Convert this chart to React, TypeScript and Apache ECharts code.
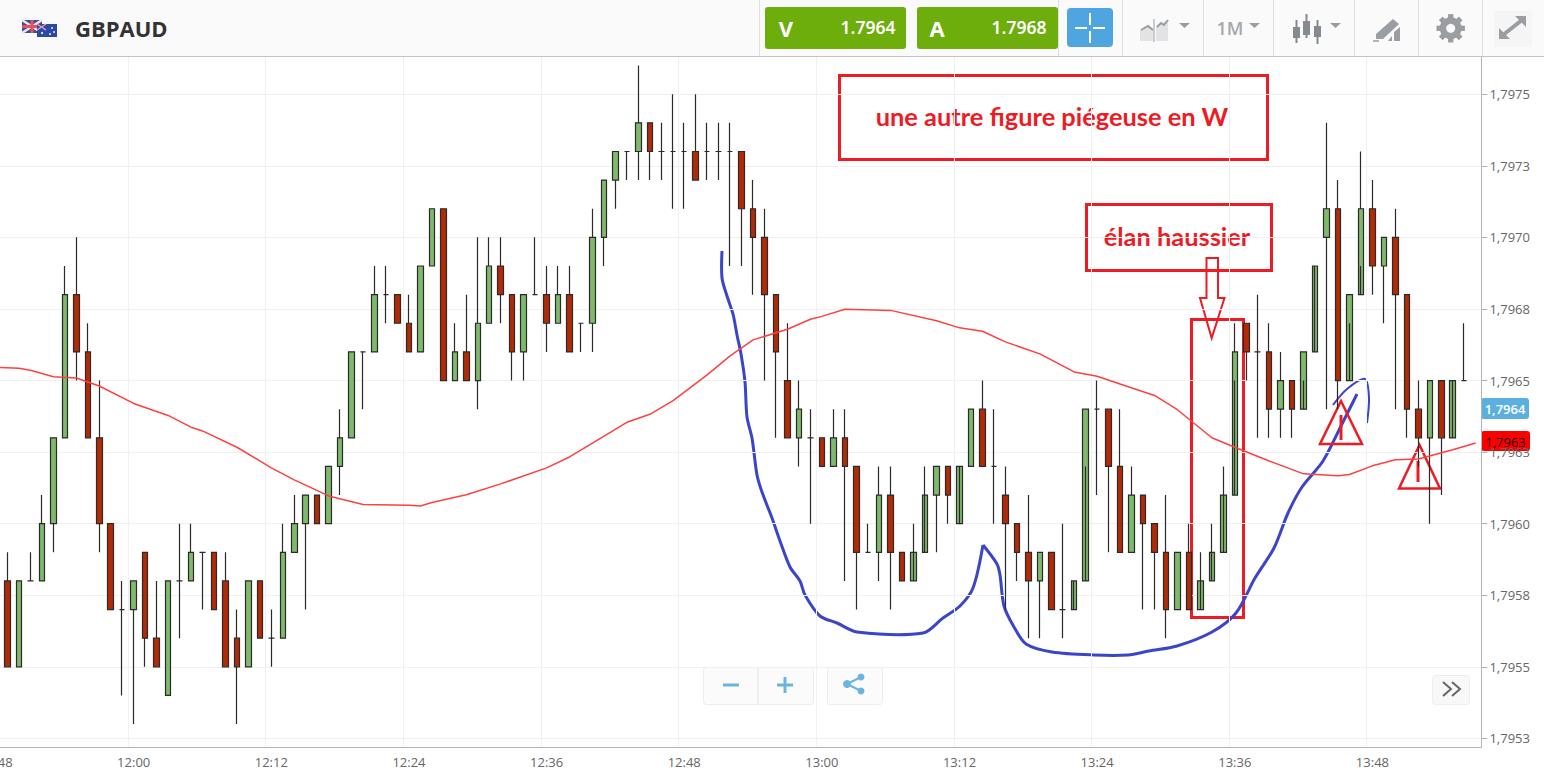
import React, { useEffect, useRef } from "react";
import * as echarts from "echarts";

// ---------- data (one candle per minute, 11:49 to 13:57) ----------
const opens = [1.7958,1.7955,1.7958,1.7958,1.7960,1.7963,1.7968,1.7966,1.7963,1.7960,1.7957,1.7957,1.7959,1.7956,1.7954,1.7958,1.7958,1.7959,1.7959,1.7958,1.7956,1.7955,1.7958,1.7956,1.7956,1.7959,1.7960,1.7961,1.7960,1.7962,1.7963,1.7966,1.7966,1.7968,1.7968,1.7967,1.7966,1.7969,1.7971,1.7965,1.7966,1.7965,1.7967,1.7969,1.7968,1.7966,1.7968,1.7968,1.7967,1.7968,1.7967,1.7967,1.7970,1.7972,1.7973,1.7973,1.7974,1.7973,1.7973,1.7973,1.7973,1.7973,1.7973,1.7973,1.7973,1.7971,1.7970,1.7968,1.7965,1.7963,1.7963,1.7963,1.7962,1.7963,1.7962,1.7959,1.7959,1.7961,1.7959,1.7958,1.7959,1.7961,1.7962,1.7960,1.7962,1.7964,1.7962,1.7961,1.7960,1.7959,1.7958,1.7959,1.7957,1.7957,1.7958,1.7964,1.7964,1.7962,1.7959,1.7961,1.7960,1.7959,1.7957,1.7959,1.7957,1.7958,1.7959,1.7961,1.7967,1.7966,1.7966,1.7964,1.7965,1.7964,1.7966,1.7970,1.7971,1.7965,1.7968,1.7971,1.7969,1.7970,1.7968,1.7964,1.7963,1.7965,1.7963,1.7965,1.7965];
const closes = [1.7955,1.7958,1.7958,1.7960,1.7963,1.7968,1.7966,1.7963,1.7960,1.7957,1.7957,1.7958,1.7956,1.7955,1.7958,1.7958,1.7959,1.7959,1.7957,1.7955,1.7955,1.7958,1.7956,1.7956,1.7959,1.7960,1.7961,1.7960,1.7962,1.7963,1.7966,1.7966,1.7968,1.7968,1.7967,1.7966,1.7969,1.7971,1.7965,1.7966,1.7965,1.7967,1.7969,1.7968,1.7966,1.7968,1.7968,1.7967,1.7968,1.7966,1.7967,1.7970,1.7972,1.7973,1.7973,1.7974,1.7973,1.7973,1.7973,1.7973,1.7972,1.7973,1.7973,1.7973,1.7971,1.7970,1.7968,1.7966,1.7963,1.7964,1.7963,1.7962,1.7963,1.7962,1.7959,1.7959,1.7961,1.7959,1.7958,1.7959,1.7961,1.7962,1.7961,1.7962,1.7964,1.7962,1.7962,1.7960,1.7959,1.7958,1.7959,1.7957,1.7957,1.7958,1.7964,1.7964,1.7962,1.7959,1.7961,1.7960,1.7959,1.7957,1.7959,1.7957,1.7958,1.7959,1.7961,1.7966,1.7966,1.7966,1.7964,1.7965,1.7964,1.7966,1.7969,1.7971,1.7965,1.7968,1.7971,1.7969,1.7970,1.7968,1.7964,1.7963,1.7965,1.7963,1.7965,1.7965,1.7967];
const lows = [1.7955,1.7955,1.7958,1.7958,1.7959,1.7963,1.7965,1.7963,1.7959,1.7957,1.7954,1.7953,1.7955,1.7955,1.7954,1.7956,1.7958,1.7957,1.7957,1.7955,1.7953,1.7955,1.7956,1.7955,1.7956,1.7959,1.7957,1.7960,1.7960,1.7961,1.7963,1.7964,1.7966,1.7967,1.7967,1.7966,1.7966,1.7969,1.7965,1.7965,1.7965,1.7964,1.7967,1.7967,1.7965,1.7965,1.7968,1.7966,1.7967,1.7966,1.7966,1.7966,1.7969,1.7971,1.7972,1.7972,1.7972,1.7972,1.7971,1.7971,1.7972,1.7972,1.7972,1.7969,1.7969,1.7968,1.7965,1.7963,1.7963,1.7962,1.7960,1.7962,1.7962,1.7958,1.7957,1.7959,1.7958,1.7957,1.7958,1.7959,1.7961,1.7959,1.7960,1.7962,1.7962,1.7962,1.7960,1.7957,1.7958,1.7956,1.7956,1.7957,1.7956,1.7958,1.7962,1.7961,1.7959,1.7959,1.7959,1.7957,1.7957,1.7956,1.7957,1.7957,1.7958,1.7959,1.7961,1.7965,1.7965,1.7963,1.7963,1.7963,1.7963,1.7965,1.7969,1.7964,1.7964,1.7967,1.7969,1.7968,1.7967,1.7964,1.7963,1.7962,1.7960,1.7961,1.7965,1.7965];
const highs = [1.7959,1.7958,1.7959,1.7961,1.7963,1.7969,1.7970,1.7967,1.7965,1.7960,1.7958,1.7958,1.7959,1.7958,1.7958,1.7960,1.7960,1.7959,1.7959,1.7959,1.7957,1.7958,1.7958,1.7957,1.7960,1.7961,1.7961,1.7961,1.7962,1.7964,1.7966,1.7966,1.7969,1.7969,1.7968,1.7968,1.7969,1.7971,1.7971,1.7967,1.7968,1.7970,1.7970,1.7970,1.7968,1.7968,1.7970,1.7969,1.7969,1.7969,1.7967,1.7971,1.7972,1.7973,1.7973,1.7976,1.7974,1.7974,1.7975,1.7974,1.7975,1.7974,1.7974,1.7974,1.7973,1.7972,1.7971,1.7968,1.7967,1.7965,1.7964,1.7963,1.7964,1.7964,1.7962,1.7960,1.7962,1.7962,1.7959,1.7960,1.7962,1.7962,1.7962,1.7962,1.7964,1.7965,1.7964,1.7962,1.7960,1.7961,1.7959,1.7959,1.7960,1.7958,1.7964,1.7965,1.7964,1.7964,1.7962,1.7961,1.7960,1.7961,1.7959,1.7960,1.7959,1.7960,1.7962,1.7967,1.7967,1.7968,1.7967,1.7966,1.7965,1.7966,1.7969,1.7974,1.7972,1.7968,1.7973,1.7972,1.7970,1.7971,1.7968,1.7965,1.7965,1.7965,1.7965,1.7967,1.7968];

// moving average, read at the minutes listed (minutes after 11:48)
const maMinutes = [0,2,3,5,7,9,12,15,17,18,21,24,26,29,32,36,37,38,41,44,48,50,52,55,57,59,62,64,66,69,71,72,74,78,82,84,86,88,91,94,96,98,101,103,106,108,111,114,117,118,120,122,124,127,129];
const maValues = [1.796546,1.796543,1.796536,1.796513,1.796509,1.796481,1.79642,1.796378,1.796337,1.796324,1.796267,1.796195,1.796153,1.796097,1.796067,1.796064,1.796062,1.796074,1.796101,1.796139,1.796195,1.796233,1.796281,1.796354,1.796382,1.796429,1.79652,1.796586,1.796642,1.796679,1.796714,1.796724,1.796749,1.796745,1.796709,1.796684,1.796672,1.796635,1.796593,1.79653,1.796515,1.796488,1.796448,1.796398,1.7963,1.796267,1.796219,1.796174,1.796167,1.796172,1.796202,1.796223,1.796226,1.796258,1.796282];

const yTickValues = [1.79525,1.7955,1.79575,1.796,1.79625,1.7965,1.79675,1.797,1.79725,1.7975];
const yTickLabels = ["1,7953","1,7955","1,7958","1,7960","1,7963","1,7965","1,7968","1,7970","1,7973","1,7975"];
const bidPrice = "1.7964";
const askPrice = "1.7968";
const bidBadge = "1,7964";
const lastBadge = "1,7963";
const titleAnnotation = "une autre figure piégeuse en W";
const momentumAnnotation = "élan haussier";

const minuteLabel = (i: number) => {
  const t = 11 * 60 + 48 + i;
  return `${Math.floor(t / 60)}:${String(t % 60).padStart(2, "0")}`;
};
const categories = Array.from({ length: 130 }, (_, i) => minuteLabel(i));

// ---------- hand-drawn overlays (screen drawing on top of the chart) ----------
const drawnCurveLeft = [[722,251],[722,278],[727,296],[733,314],[737,335],[741,354],[745,382],[747,417],[752,438],[757,475],[762,492],[772,518],[780,541],[790,567],[800,581],[805,595],[820,616],[837,623],[857,632],[923,633],[943,618],[960,606],[973,588],[983,545]];
const drawnCurveRight = [[983,545],[997,564],[1000,575],[1004,606],[1014,627],[1026,644],[1052,652],[1094,655],[1128,655],[1149,651],[1177,646],[1212,632],[1236,613],[1255,578],[1274,548],[1288,513],[1302,487],[1323,461],[1342,424],[1357,394]];
const drawnHook = [[1333,405],[1347,389],[1365,379],[1369,398],[1367,423]];
const RED = "#ed1c24";
const BLUE_INK = "#3b45c8";
const ICON = "#9a9ea3";
const SKY = "#6cb4e0";
const FONT = "'Open Sans', sans-serif";

const box = (x: number, y: number, w: number, h: number, fill: string, stroke = "none", r = 0, lineWidth = 1) => ({
  type: "rect", silent: true, shape: { x, y, width: w, height: h, r }, style: { fill, stroke, lineWidth },
});
const line = (x1: number, y1: number, x2: number, y2: number, stroke: string, lineWidth = 1) => ({
  type: "line", silent: true, shape: { x1, y1, x2, y2 }, style: { stroke, lineWidth },
});
const poly = (points: number[][], fill: string, stroke = "none", lineWidth = 1) => ({
  type: "polygon", silent: true, shape: { points }, style: { fill, stroke, lineWidth },
});
const label = (text: string, x: number, y: number, fill: string, font: string, textAlign = "center") => ({
  type: "text", silent: true, x, y, style: { text, fill, font, textAlign, textVerticalAlign: "middle" },
});
const ink = (points: number[][], lineWidth: number) => ({
  type: "polyline", silent: true, shape: { points, smooth: 0.3 },
  style: { stroke: BLUE_INK, lineWidth, fill: "none", lineJoin: "round" },
});

const headerGraphics = () => {
  const seps = [759, 1058, 1122, 1203, 1273, 1354, 1418, 1482];
  const teeth = [0, 1, 2, 3, 4, 5, 6, 7].map((k) => ({
    type: "rect", silent: true, x: 1450.7, y: 28.3, rotation: (k * Math.PI) / 4,
    shape: { x: -2.5, y: -14, width: 5, height: 28 }, style: { fill: ICON },
  }));
  return [
    box(0, 0, 1544, 56, "#fafafa"),
    line(0, 56.5, 1544, 56.5, "#c4c4c4", 1),
    ...seps.map((x) => line(x + 0.5, 0, x + 0.5, 56, "#dedede")),
    // flags
    box(22, 20, 20, 13, "#3d4f9c"),
    line(22, 20, 42, 33, "#f1e6e6", 2.5),
    line(42, 20, 22, 33, "#f1e6e6", 2.5),
    line(32, 20, 32, 33, "#e8505b", 3),
    line(22, 26.5, 42, 26.5, "#e8505b", 3),
    box(37, 24, 20, 13, "#2b4aa6"),
    line(37, 24, 46, 30, "#e8a0a8", 1.5),
    line(46, 24, 37, 30, "#e8a0a8", 1.5),
    { type: "circle", silent: true, shape: { cx: 42, cy: 33, r: 1 }, style: { fill: "#fff" } },
    { type: "circle", silent: true, shape: { cx: 52, cy: 28, r: 0.9 }, style: { fill: "#fff" } },
    { type: "circle", silent: true, shape: { cx: 54, cy: 32, r: 0.9 }, style: { fill: "#fff" } },
    { type: "circle", silent: true, shape: { cx: 50, cy: 34, r: 0.9 }, style: { fill: "#fff" } },
    label("GBPAUD", 75, 28, "#333333", `bold 22px ${FONT}`, "left"),
    // quote buttons
    box(765, 7, 141, 42, "#6dad0c", "none", 3),
    label("V", 786, 28, "#ffffff", `bold 22px ${FONT}`),
    label(bidPrice, 868, 27, "#ffffff", `600 17.5px 'Noto Sans', sans-serif`),
    box(917, 7, 141, 42, "#6dad0c", "none", 3),
    label("A", 937, 28, "#ffffff", `bold 22px ${FONT}`),
    label(askPrice, 1019, 27, "#ffffff", `600 17.5px 'Noto Sans', sans-serif`),
    // crosshair
    box(1067, 8, 46, 39, "#4ea5df", "none", 4),
    line(1075, 28, 1087, 28, "#ffffff", 2),
    line(1093, 28, 1105, 28, "#ffffff", 2),
    line(1090, 13, 1090, 25, "#ffffff", 2),
    line(1090, 31, 1090, 43, "#ffffff", 2),
    // chart style
    poly([[1140,41],[1140,30],[1148,25],[1153,30],[1153,41]], "#e2e3e4"),
    poly([[1156,41],[1156,26],[1168,20],[1168,41]], "#e2e3e4"),
    { type: "polyline", silent: true, shape: { points: [[1141,30],[1148,26],[1153,30]] }, style: { stroke: ICON, lineWidth: 2, fill: "none" } },
    { type: "polyline", silent: true, shape: { points: [[1157,27],[1161,23],[1164,25],[1168,20]] }, style: { stroke: ICON, lineWidth: 2, fill: "none" } },
    line(1154, 19, 1154, 42, "#9a9ea3", 1),
    poly([[1179,23],[1190,23],[1184.5,28]], ICON),
    label("1M", 1230, 28, "#a4a8ac", `600 18px ${FONT}`),
    poly([[1249,23],[1260,23],[1254.5,28]], ICON),
    // candle icon
    line(1296.5, 20, 1296.5, 43, "#858a90", 2),
    box(1293, 27, 7, 11, "#858a90"),
    line(1306.5, 14, 1306.5, 38, "#858a90", 2),
    box(1303, 21, 7, 14, "#858a90"),
    line(1317.5, 20, 1317.5, 44, "#858a90", 2),
    box(1314, 26, 7, 11, "#858a90"),
    poly([[1330,23],[1341,23],[1335.5,28]], ICON),
    // drawing icon
    poly([[1376,34],[1393,19],[1399,24],[1383,39],[1376,39]], ICON),
    poly([[1388,41],[1392,36],[1392,41]], ICON),
    poly([[1394,41],[1394,32],[1400,27],[1400,41]], ICON),
    line(1373, 41, 1379, 41, ICON, 1.5),
    // gear
    ...teeth,
    { type: "circle", silent: true, shape: { cx: 1450.7, cy: 28.3, r: 11 }, style: { fill: ICON } },
    { type: "circle", silent: true, shape: { cx: 1450.7, cy: 28.3, r: 4.5 }, style: { fill: "#fafafa" } },
    // expand
    box(1494, 11, 38, 36, "#f5f5f5"),
    poly([[1499,28],[1499,39],[1510,39]], "#9a9ea3"),
    poly([[1526,16],[1515,16],[1526,27]], "#9a9ea3"),
    line(1503, 35, 1522, 20, "#9a9ea3", 4),
  ];
};

const controlGraphics = () => [
  box(703.5, 667.5, 110, 37, "#fbfbfb", "#ececec", 3),
  line(758, 668, 758, 704, "#e2e2e2"),
  line(723, 685, 739, 685, SKY, 3),
  line(777, 685, 793, 685, SKY, 3),
  line(785, 677, 785, 693, SKY, 3),
  box(827.5, 667.5, 55, 37, "#fbfbfb", "#ececec", 3),
  line(847, 684, 861, 677, SKY, 2),
  line(847, 684, 861, 691, SKY, 2),
  { type: "circle", silent: true, shape: { cx: 847, cy: 684, r: 4 }, style: { fill: SKY } },
  { type: "circle", silent: true, shape: { cx: 861, cy: 677, r: 3.5 }, style: { fill: SKY } },
  { type: "circle", silent: true, shape: { cx: 861, cy: 691, r: 3.5 }, style: { fill: SKY } },
  box(1432.5, 675.5, 37, 29, "#f8f8f8", "#eeeeee", 3),
  { type: "polyline", silent: true, shape: { points: [[1443,682],[1451,689],[1443,696]] }, style: { stroke: "#666", lineWidth: 2, fill: "none" } },
  { type: "polyline", silent: true, shape: { points: [[1452,682],[1460,689],[1452,696]] }, style: { stroke: "#666", lineWidth: 2, fill: "none" } },
];

const badgeGraphics = () => [
  box(1481, 398, 48, 21, "#5cb0e0", "none", 3),
  label(bidBadge, 1505, 409, "#ffffff", `600 13px ${FONT}`),
  box(1481, 431, 49, 20, "#fb0000", "none", 3),
  label(lastBadge, 1505.5, 441.5, "#1a0000", `13px ${FONT}`),
];

const annotationGraphics = () => [
  box(839.5, 75.5, 428, 84, "none", RED, 0, 3),
  label(titleAnnotation, 1052, 116, RED, `bold 25.4px Lato, sans-serif`),
  box(1086.5, 204.5, 185, 66, "none", RED, 0, 3),
  label(momentumAnnotation, 1177, 236, RED, `bold 25.4px Lato, sans-serif`),
  box(1191.5, 319.5, 52, 298, "none", RED, 0, 3),
  poly([[1206.5,258],[1218,258],[1218,298],[1224.5,298],[1211.7,338],[1200,298],[1206.5,298]], "none", RED, 2),
  ink(drawnCurveLeft, 3),
  ink(drawnCurveRight, 3),
  ink(drawnHook, 2),
  poly([[1341,401],[1320,444],[1362,444]], "none", RED, 2.5),
  line(1341, 415, 1341, 440, RED, 3),
  poly([[1419.5,445],[1399,488.5],[1440,488.5]], "none", RED, 2.5),
  line(1418, 461, 1418, 482, RED, 3),
];

export default function App() {
  const ref = useRef<HTMLDivElement>(null);
  useEffect(() => {
    const chart = echarts.init(ref.current!, undefined, { renderer: "svg" });
    const everyTwelve = (i: number) => i % 12 === 0;
    const candles: any[] = ["-"];
    opens.forEach((o, i) => candles.push([o, closes[i], lows[i], highs[i]]));
    chart.setOption({
      animation: false,
      backgroundColor: "#ffffff",
      grid: { left: -9.7, right: 62.6, top: 57, bottom: 36, outerBoundsMode: "none" },
      xAxis: {
        type: "category",
        data: categories,
        boundaryGap: true,
        axisLine: { lineStyle: { color: "#b4b4b4" } },
        axisTick: { interval: everyTwelve, alignWithLabel: true, length: 5, lineStyle: { color: "#b4b4b4" } },
        axisLabel: { interval: everyTwelve, color: "#666666", fontFamily: "'Open Sans', sans-serif", fontSize: 13, margin: 8, hideOverlap: false },
        splitLine: { show: true, interval: everyTwelve, lineStyle: { color: "#f0f0f0" } },
      },
      yAxis: {
        type: "value",
        position: "right",
        scale: true,
        min: 1.79522,
        max: 1.79763,
        axisLine: { show: true, lineStyle: { color: "#b4b4b4" } },
        axisTick: { show: true, length: 6, customValues: yTickValues, lineStyle: { color: "#b4b4b4" } },
        axisLabel: {
          customValues: yTickValues,
          color: "#666666",
          fontFamily: "'Open Sans', sans-serif",
          fontSize: 13,
          margin: 8,
          formatter: (v: number) => {
            const k = yTickValues.findIndex((t) => Math.abs(t - v) < 1e-6);
            return k >= 0 ? yTickLabels[k] : "";
          },
        },
        splitLine: { show: true, lineStyle: { color: "#f0f0f0" } },
      },
      series: [
        {
          type: "candlestick",
          data: candles,
          barWidth: 6,
          itemStyle: {
            color: "#7fb96c",
            color0: "#b22a06",
            borderColor: "#2a2a2a",
            borderColor0: "#2a2a2a",
            borderColorDoji: "#2a2a2a",
            borderWidth: 1.2,
          },
        },
        {
          type: "line",
          data: maMinutes.map((m, i) => [m, maValues[i]]),
          showSymbol: false,
          smooth: false,
          lineStyle: { color: "#ff4040", width: 1.5 },
          z: 3,
        },
      ],
      graphic: [...headerGraphics(), ...controlGraphics(), ...badgeGraphics(), ...annotationGraphics()],
    });
    return () => chart.dispose();
  }, []);
  return <div ref={ref} style={{ position: "fixed", left: 0, top: 0, width: 1544, height: 783 }} />;
}
